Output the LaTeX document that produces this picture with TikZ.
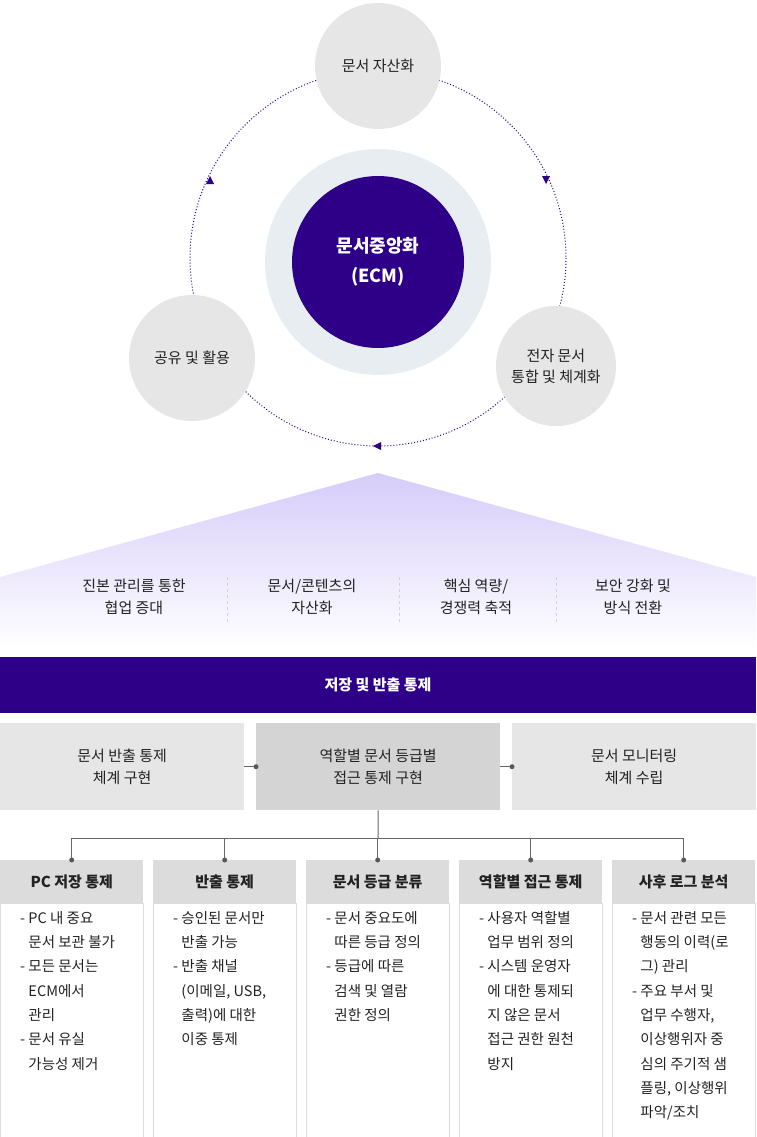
\documentclass[tikz,border=0pt]{standalone}
\usepackage{fontspec}
\setmainfont{Noto Sans CJK KR}
\usetikzlibrary{arrows.meta}
\definecolor{dpurple}{HTML}{2E0087}
\definecolor{cgray}{HTML}{E6E6E6}
\definecolor{mgray}{HTML}{D4D4D4}
\definecolor{hgray}{HTML}{DCDCDC}
\definecolor{lav}{HTML}{D6CCFA}
\definecolor{halo}{HTML}{E8EDF2}
\definecolor{txt}{HTML}{222222}
\begin{document}
\begin{tikzpicture}[x=1pt,y=-1pt,
  every node/.style={text=txt},
  sat/.style={circle,fill=cgray,minimum size=126pt,inner sep=0pt,align=center,font=\fontsize{15}{21}\selectfont},
  gbox/.style={fill=cgray,minimum width=244pt,minimum height=87pt,anchor=north west,align=center,font=\fontsize{15}{22}\selectfont},
  hdr/.style={fill=hgray,minimum width=143pt,minimum height=43pt,anchor=north west,font=\bfseries\fontsize{15}{18}\selectfont},
  bodybox/.style={draw=hgray,line width=1pt,minimum width=143pt,minimum height=234pt,anchor=north west},
  btxt/.style={anchor=north west,align=left,inner sep=0pt,font=\fontsize{14.5}{24.3}\selectfont},
  lbl/.style={align=center,font=\fontsize{15}{22}\selectfont},
  conn/.style={draw=gray!80!black,line width=1pt},
  dotc/.style={circle,fill=gray!70!black,inner sep=0pt,minimum size=5pt}]
\useasboundingbox (0,0) rectangle (756,1137);
% orbit
\draw[dotted,dpurple,line width=1pt] (378,258) circle[radius=188];
\fill[dpurple] (210,176) -- (206,184) -- (214,184) -- cycle;
\fill[dpurple] (546,184) -- (542,176) -- (550,176) -- cycle;
\fill[dpurple] (373,446) -- (381,442) -- (381,450) -- cycle;
% satellites
\node[sat] (top) at (378,66) {문서 자산화};
\node[sat] (left) at (192,358) {공유 및 활용};
\node[sat,minimum size=120pt] (right) at (556,366) {전자 문서\\통합 및 체계화};
% center
\node[circle,fill=halo,minimum size=226pt] (halo) at (378,262) {};
\node[circle,fill=dpurple,minimum size=172pt,align=center,text=white,font=\bfseries\fontsize{18}{30}\selectfont] (ecm) at (378,262) {문서중앙화\\(ECM)};
% roof
\shade[top color=lav,bottom color=white] (0,577) -- (378,473) -- (756,577) -- (756,650) -- (0,650) -- cycle;
\foreach \x in {227,399,556} \draw[dashed,gray!35,line width=0.6pt] (\x,577) -- (\x,622);
\node[lbl] (r1) at (134,597) {진본 관리를 통한\\협업 증대};
\node[lbl] (r2) at (312,597) {문서/콘텐츠의\\자산화};
\node[lbl] (r3) at (476,597) {핵심 역량/\\경쟁력 축적};
\node[lbl] (r4) at (633,597) {보안 강화 및\\방식 전환};
% band
\fill[dpurple] (0,657) rectangle (756,713);
\node[text=white,font=\bfseries\fontsize{15}{18}\selectfont] (band) at (378,685) {저장 및 반출 통제};
% three boxes
\node[gbox] (b1) at (0,723) {문서 반출 통제\\체계 구현};
\node[gbox,fill=mgray] (b2) at (256,723) {역할별 문서 등급별\\접근 통제 구현};
\node[gbox] (b3) at (512,723) {문서 모니터링\\체계 수립};
\draw[conn] (b1.east) -- (b2.west);
\node[dotc] at (b2.west) {};
\draw[conn] (b2.east) -- (b3.west);
\node[dotc] at (b3.west) {};
% bottom columns
\foreach \i/\x/\t in {1/0/PC 저장 통제,2/153/반출 통제,3/306/문서 등급 분류,4/459/역할별 접근 통제,5/612/사후 로그 분석}{
  \node[bodybox] (bb\i) at (\x,903) {};
  \node[hdr] (h\i) at (\x,860) {\t};
}
\coordinate (split) at (378,838);
\draw[conn] (b2.south) -- (split);
\draw[conn] (h1.north) |- (split) -| (h5.north);
\foreach \i in {2,3,4} \draw[conn] (h\i.north) -- (h\i.north |- split);
\foreach \i in {1,...,5} \node[dotc] at (h\i.north) {};
\def\ind{\phantom{- }}
\node[btxt] (t1) at (20,911) {- PC 내 중요\\\ind 문서 보관 불가\\- 모든 문서는\\\ind ECM에서\\\ind 관리\\- 문서 유실\\\ind 가능성 제거};
\node[btxt] (t2) at (173,911) {- 승인된 문서만\\\ind 반출 가능\\- 반출 채널\\\ind (이메일, USB,\\\ind 출력)에 대한\\\ind 이중 통제};
\node[btxt] (t3) at (326,911) {- 문서 중요도에\\\ind 따른 등급 정의\\- 등급에 따른\\\ind 검색 및 열람\\\ind 권한 정의};
\node[btxt] (t4) at (479,911) {- 사용자 역할별\\\ind 업무 범위 정의\\- 시스템 운영자\\\ind 에 대한 통제되\\\ind 지 않은 문서\\\ind 접근 권한 원천\\\ind 방지};
\node[btxt] (t5) at (632,911) {- 문서 관련 모든\\\ind 행동의 이력(로\\\ind 그) 관리\\- 주요 부서 및\\\ind 업무 수행자,\\\ind 이상행위자 중\\\ind 심의 주기적 샘\\\ind 플링, 이상행위\\\ind 파악/조치};
\end{tikzpicture}
\end{document}
